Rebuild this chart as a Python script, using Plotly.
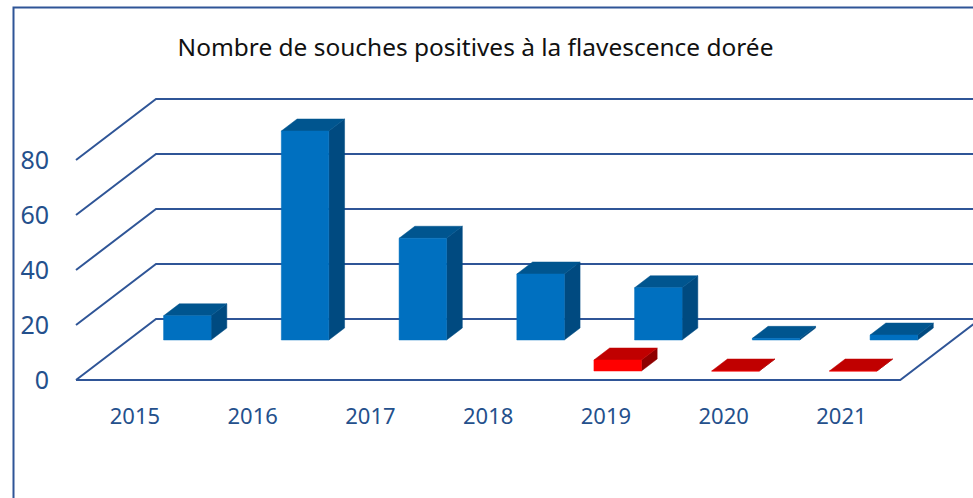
import plotly.graph_objects as go

years = ["2015", "2016", "2017", "2018", "2019", "2020", "2021"]
blue_values = [8.8, 76, 37, 24, 19, 0.6, 1.8]
red_values = [None, None, None, None, 4, 0, 0]
value_ticks = [0, 20, 40, 60, 80]

LINE = "#2F5597"
TEXT = "#24508C"
FONT = "Noto Sans"

# oblique projection: floor depth 0..1 shifts in category units and value units
PX_CAT = 117.75
PX_VAL = 2.75
DX = 80 / PX_CAT
DY = 61 / PX_VAL
BAR_W = 47.5 / PX_CAT
X_MIN = -6 / PX_CAT
X_MAX = (973 - 76) / PX_CAT
Y_MIN = -16 / PX_VAL
Y_MAX = 290 / PX_VAL
N = len(years)


def proj(c, d, v):
    return c + d * DX, v + d * DY


fig = go.Figure()


def add_line(pts):
    xs, ys = zip(*pts)
    fig.add_trace(go.Scatter(x=xs, y=ys, mode="lines", hoverinfo="skip", showlegend=False,
                             line=dict(color=LINE, width=2)))


for v in value_ticks:
    add_line([proj(0, 0, v), proj(0, 1, v), proj(X_MAX, 1, v)])
add_line([proj(0, 0, 0), proj(N, 0, 0), proj(N, 1, 0)])


def add_faces(xs, ys, color):
    fig.add_trace(go.Scatter(x=xs, y=ys, mode="lines", fill="toself", fillcolor=color,
                             hoverinfo="skip", showlegend=False,
                             line=dict(color=color, width=0.5)))


def add_series(values, d0, d1, front, top, side):
    faces = {"side": ([], []), "top": ([], []), "front": ([], [])}
    for i, v in enumerate(values):
        if v is None:
            continue
        c0 = i + 0.5 - BAR_W / 2
        c1 = i + 0.5 + BAR_W / 2
        polys = {
            "front": [proj(c0, d0, 0), proj(c1, d0, 0), proj(c1, d0, v), proj(c0, d0, v)],
            "top": [proj(c0, d0, v), proj(c1, d0, v), proj(c1, d1, v), proj(c0, d1, v)],
            "side": [proj(c1, d0, 0), proj(c1, d1, 0), proj(c1, d1, v), proj(c1, d0, v)],
        }
        for name, poly in polys.items():
            fx, fy = faces[name]
            for p in poly + [poly[0]]:
                fx.append(p[0])
                fy.append(p[1])
            fx.append(None)
            fy.append(None)
    add_faces(*faces["side"], side)
    add_faces(*faces["top"], top)
    add_faces(*faces["front"], front)


add_series(blue_values, 40 / 61, 52 / 61, "#0070C0", "#00558F", "#004A80")
add_series(red_values, 9 / 61, 21 / 61, "#FF0000", "#C00000", "#8F0000")

fig.update_layout(
    width=973, height=498,
    margin=dict(l=70, r=0, t=90, b=102, autoexpand=False),
    paper_bgcolor="white", plot_bgcolor="white",
    showlegend=False,
    title=dict(text="Nombre de souches positives à la flavescence dorée",
               x=475.5 / 973, xref="container", xanchor="center",
               y=1 - 47 / 498, yanchor="middle",
               font=dict(family=FONT, size=24.45, color="#111111")),
    xaxis=dict(range=[X_MIN, X_MAX], showgrid=False, zeroline=False, showline=False,
               tickmode="array", tickvals=[i + 0.5 for i in range(N)], ticktext=years,
               ticks="outside", ticklen=1, tickcolor="rgba(0,0,0,0)",
               tickfont=dict(family=FONT, size=22, color=TEXT)),
    yaxis=dict(range=[Y_MIN, Y_MAX], showgrid=False, zeroline=False, showline=False,
               tickmode="array", tickvals=value_ticks, ticktext=[str(v) for v in value_ticks],
               ticks="outside", ticklen=15, tickcolor="rgba(0,0,0,0)",
               tickfont=dict(family=FONT, size=25, color=TEXT)),
    shapes=[dict(type="rect", xref="paper", yref="paper",
                 x0=(13.5 - 70) / 903, x1=1.1, y0=-0.5, y1=(498 - 102 - 7.5) / 306,
                 line=dict(color=LINE, width=2), layer="below")],
)

fig.write_html("out.html", config={"displayModeBar": False},
               post_script="document.body.style.margin='0';document.body.style.overflow='hidden';")
